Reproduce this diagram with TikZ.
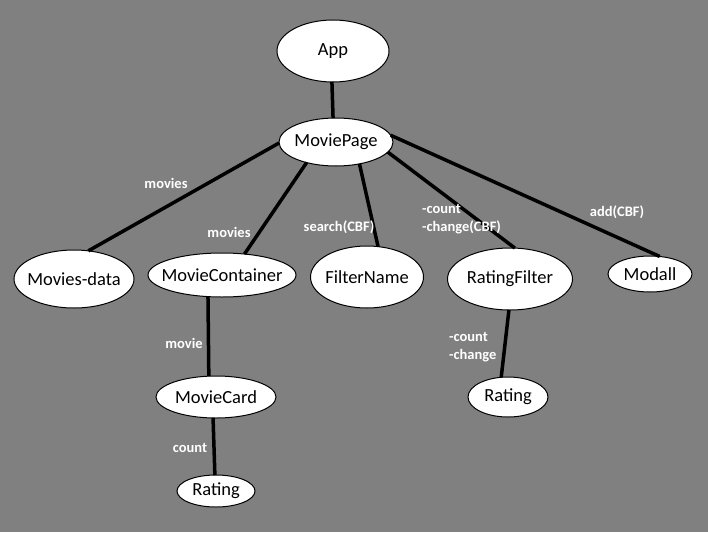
\documentclass[tikz,border=0pt]{standalone}
\usepackage{fontspec}
\setmainfont{Carlito}
\usetikzlibrary{shapes.geometric}
\newcommand\zt[1]{\makebox[0pt]{#1}}
\begin{document}
\begin{tikzpicture}[x=1pt,y=-1pt,
  comp/.style={ellipse,draw=black,line width=1pt,fill=white,inner sep=0pt,outer sep=0pt,
    font=\fontsize{18.5}{22}\selectfont},
  edge/.style={line width=3.5pt,black},
  lbl/.style={text=white,font=\bfseries\fontsize{14.5}{18}\selectfont,inner sep=0pt,align=left}]
\fill[gray!100!black,fill={rgb,255:red,128;green,128;blue,128}] (0,0) rectangle (708,532);
\useasboundingbox (0,0) rectangle (708,532);
\node[comp,minimum width=112pt,minimum height=62pt] (app) at (333,51) {\zt{App}};
\node[comp,minimum width=114pt,minimum height=48pt] (mp) at (336,142) {\zt{MoviePage}};
\node[comp,minimum width=120pt,minimum height=58pt] (md) at (74,279) {\zt{Movies-data}};
\node[comp,minimum width=148pt,minimum height=44pt] (mc) at (222,275) {\zt{MovieContainer}};
\node[comp,minimum width=113pt,minimum height=62pt] (fn) at (367,277) {\zt{FilterName}};
\node[comp,minimum width=125pt,minimum height=62pt] (rf) at (510,279) {\zt{RatingFilter}};
\node[comp,minimum width=84pt,minimum height=36pt] (mo) at (650,274) {\zt{Modall}};
\node[comp,minimum width=120pt,minimum height=42pt] (card) at (216,397) {\zt{MovieCard}};
\node[comp,minimum width=78pt,minimum height=32pt] (r1) at (216,491) {\zt{Rating}};
\node[comp,minimum width=80pt,minimum height=40pt] (r2) at (508,397) {\zt{Rating}};
\draw[edge] (app.268) -- (mp.97);
\draw[edge] (mp.181) -- (md.63);
\draw[edge] (mp.215) -- (mc.43);
\draw[edge] (mp.317) -- (fn.70);
\draw[edge] (mp.349) -- (rf.81);
\draw[edge] (mp.7) -- (mo.61);
\draw[edge] (mc.237) -- (card.109);
\draw[edge] (card.262) -- (r1.94);
\draw[edge] (rf.268) -- (r2.109);
\node[lbl] (l1) at (166,183) {movies};
\node[lbl] (l2) at (229,232) {movies};
\node[lbl] (l3) at (339,227) {search(CBF)};
\node[lbl,anchor=west] (l4) at (422,219) {-count\\-change(CBF)};
\node[lbl] (l5) at (617,212) {add(CBF)};
\node[lbl] (l6) at (184,343) {movie};
\node[lbl] (l7) at (190,448) {count};
\node[lbl,anchor=west] (l8) at (449,347) {-count\\-change};
\end{tikzpicture}
\end{document}
